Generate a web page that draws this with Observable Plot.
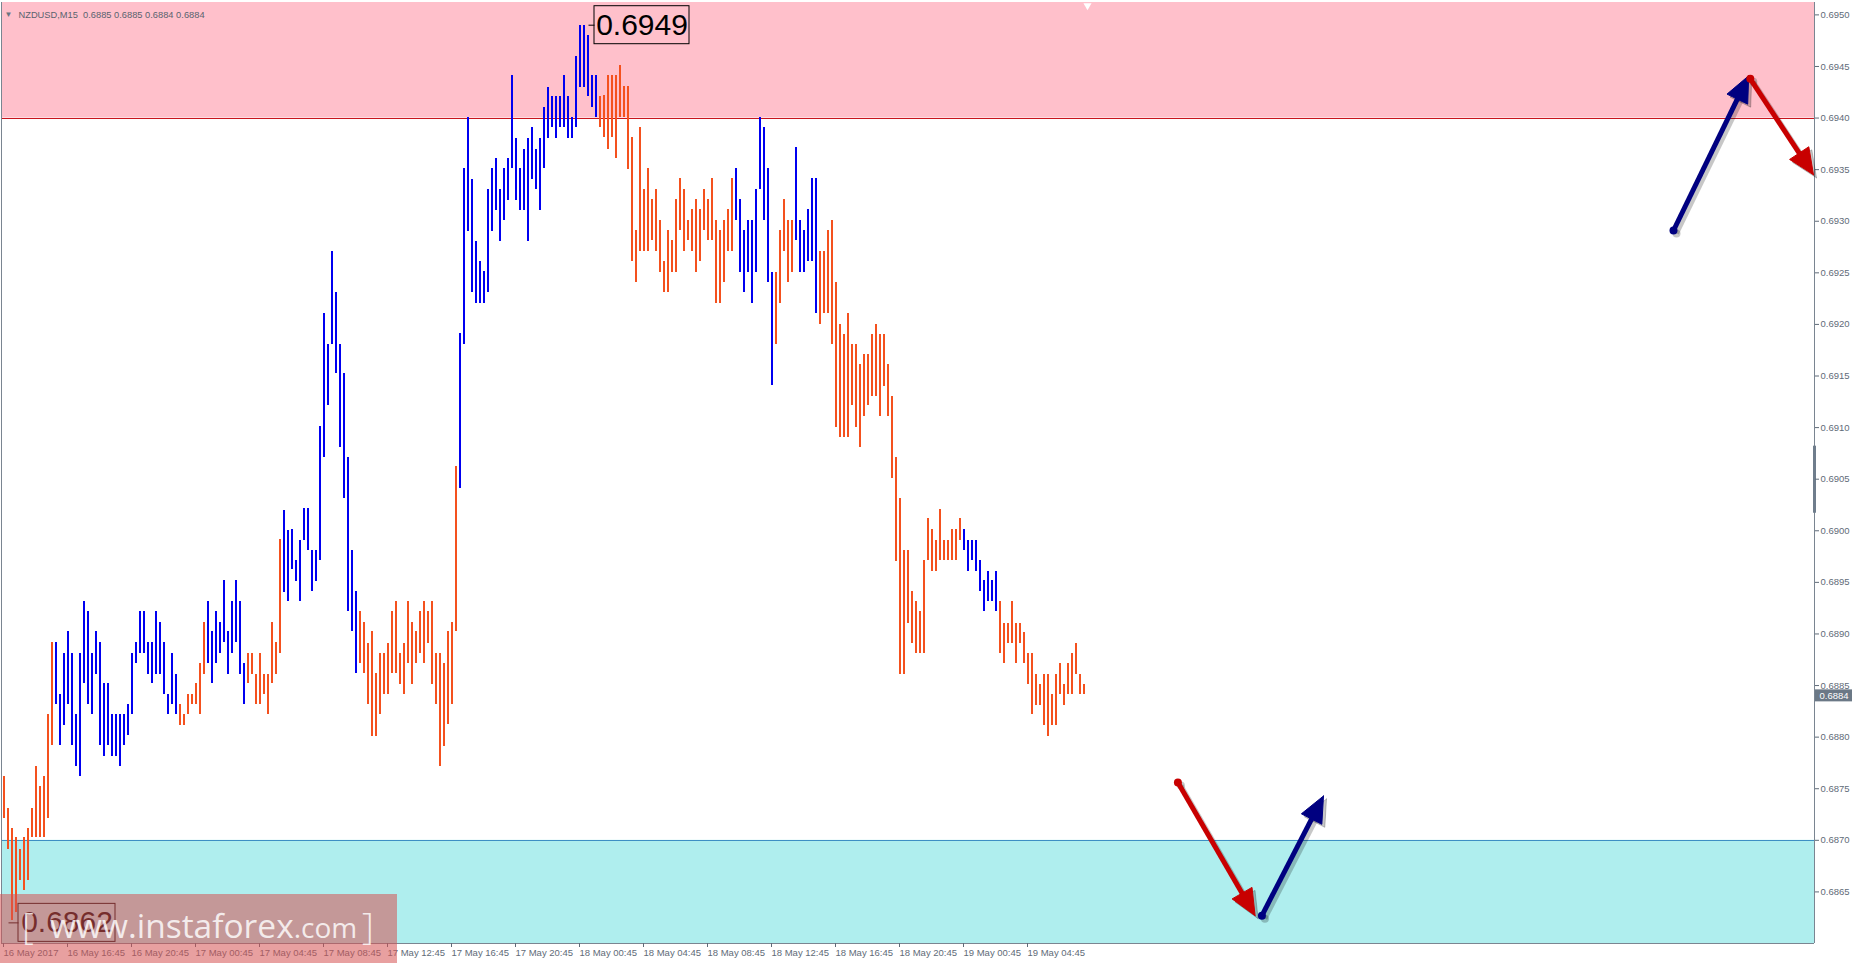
<!DOCTYPE html>
<html>
<head>
<meta charset="utf-8">
<script src="https://cdn.jsdelivr.net/npm/d3@7"></script>
<script src="https://cdn.jsdelivr.net/npm/@observablehq/plot@0.6"></script>
<style>
html, body { margin: 0; padding: 0; background: #ffffff; }
#wrap { position: relative; width: 1856px; height: 963px; overflow: hidden; background: #ffffff; }
#wrap svg { display: block; }
#wm { position: absolute; left: 0; top: 894px; width: 397px; height: 69px; background: rgba(213,82,82,0.55); pointer-events: none; }
#wm > .w { position: absolute; top: 9px; font-family: "Open Sans", sans-serif; line-height: 44px; white-space: nowrap; color: rgba(255,255,255,0.82); }
#wm .com { font-size: 28px; }
</style>
</head>
<body>
<div id="wrap"><div id="wm"><span class="w" style="left:22px;font-weight:300;font-size:37px">[</span><span class="w" style="left:50px;font-size:33.5px">www.instaforex<span class="com">.com</span></span><span class="w" style="left:362px;font-weight:300;font-size:37px">]</span></div></div>
<script>
// ---------- data (NZDUSD M15, one bar per 15 min, first bar 16 May 12:45) ----------
const barHigh = [
  0.68762,0.68731,0.68711,0.68703,0.68691,0.68703,0.68711,0.68731,0.68772,0.68752,
  0.68762,0.68822,0.68892,0.68892,0.68841,0.68881,0.68902,0.68881,0.68822,0.68881,
  0.68931,0.68922,0.68881,0.68902,0.68892,0.68852,0.68852,0.68822,0.68822,0.68822,
  0.68822,0.68832,0.68881,0.68892,0.68922,0.68922,0.68892,0.68892,0.68922,0.68911,
  0.68892,0.68841,0.68881,0.68861,0.68832,0.68822,0.68841,0.68841,0.68852,0.68871,
  0.68911,0.68931,0.68902,0.68922,0.68911,0.68952,0.68902,0.68931,0.68952,0.68931,
  0.68871,0.68881,0.68881,0.68861,0.68881,0.68861,0.68861,0.68911,0.68892,0.68992,
  0.69020,0.69000,0.69001,0.68971,0.68991,0.69022,0.69022,0.68981,0.68981,0.69101,
  0.69211,0.69181,0.69271,0.69231,0.69181,0.69152,0.69071,0.68981,0.68941,0.68922,
  0.68911,0.68891,0.68902,0.68862,0.68881,0.68881,0.68891,0.68922,0.68931,0.68881,
  0.68891,0.68931,0.68911,0.68902,0.68922,0.68931,0.68922,0.68931,0.68881,0.68881,
  0.68871,0.68902,0.68911,0.69062,0.69191,0.69351,0.69401,0.69340,0.69280,0.69261,
  0.69251,0.69331,0.69351,0.69361,0.69331,0.69351,0.69361,0.69441,0.69380,0.69351,
  0.69370,0.69380,0.69391,0.69370,0.69380,0.69410,0.69430,0.69421,0.69421,0.69421,
  0.69441,0.69421,0.69401,0.69460,0.69490,0.69490,0.69480,0.69441,0.69441,0.69421,
  0.69422,0.69441,0.69441,0.69441,0.69451,0.69431,0.69431,0.69381,0.69291,0.69391,
  0.69331,0.69351,0.69321,0.69331,0.69301,0.69261,0.69291,0.69281,0.69321,0.69341,
  0.69331,0.69301,0.69311,0.69321,0.69311,0.69331,0.69321,0.69341,0.69301,0.69291,
  0.69301,0.69311,0.69341,0.69351,0.69321,0.69291,0.69301,0.69301,0.69331,0.69401,
  0.69391,0.69351,0.69250,0.69250,0.69291,0.69321,0.69301,0.69301,0.69371,0.69301,
  0.69291,0.69311,0.69341,0.69341,0.69271,0.69271,0.69291,0.69301,0.69241,0.69200,
  0.69190,0.69211,0.69181,0.69181,0.69161,0.69171,0.69171,0.69190,0.69200,0.69190,
  0.69190,0.69161,0.69130,0.69071,0.69031,0.68981,0.68981,0.68941,0.68931,0.68922,
  0.68971,0.69012,0.69001,0.68991,0.69021,0.68991,0.68991,0.69001,0.69001,0.69012,
  0.69001,0.68991,0.68991,0.68991,0.68971,0.68952,0.68961,0.68952,0.68961,0.68931,
  0.68910,0.68910,0.68931,0.68910,0.68910,0.68901,0.68881,0.68881,0.68861,0.68851,
  0.68861,0.68861,0.68841,0.68861,0.68871,0.68851,0.68871,0.68881,0.68891,0.68861,
  0.68851
];
const barLow = [
  0.68721,0.68691,0.68622,0.68630,0.68661,0.68651,0.68661,0.68703,0.68703,0.68703,
  0.68703,0.68721,0.68792,0.68832,0.68792,0.68811,0.68832,0.68792,0.68772,0.68762,
  0.68852,0.68832,0.68822,0.68861,0.68792,0.68781,0.68792,0.68781,0.68781,0.68772,
  0.68792,0.68802,0.68822,0.68871,0.68881,0.68881,0.68861,0.68852,0.68861,0.68861,
  0.68841,0.68822,0.68832,0.68822,0.68811,0.68811,0.68822,0.68832,0.68832,0.68822,
  0.68861,0.68871,0.68852,0.68871,0.68881,0.68892,0.68861,0.68881,0.68892,0.68861,
  0.68832,0.68852,0.68861,0.68832,0.68832,0.68841,0.68822,0.68852,0.68861,0.68881,
  0.68940,0.68931,0.68962,0.68951,0.68931,0.68991,0.68981,0.68941,0.68951,0.68971,
  0.69071,0.69121,0.69181,0.69152,0.69081,0.69031,0.68922,0.68902,0.68862,0.68871,
  0.68862,0.68832,0.68801,0.68801,0.68822,0.68841,0.68841,0.68862,0.68862,0.68851,
  0.68841,0.68871,0.68851,0.68871,0.68881,0.68871,0.68891,0.68851,0.68832,0.68772,
  0.68791,0.68812,0.68832,0.68902,0.69041,0.69181,0.69290,0.69231,0.69220,0.69220,
  0.69220,0.69231,0.69290,0.69310,0.69280,0.69301,0.69320,0.69351,0.69320,0.69310,
  0.69310,0.69280,0.69340,0.69331,0.69310,0.69351,0.69380,0.69391,0.69380,0.69391,
  0.69391,0.69380,0.69380,0.69391,0.69430,0.69430,0.69421,0.69410,0.69401,0.69391,
  0.69381,0.69370,0.69381,0.69361,0.69401,0.69401,0.69350,0.69261,0.69241,0.69271,
  0.69271,0.69271,0.69281,0.69271,0.69250,0.69231,0.69231,0.69250,0.69250,0.69291,
  0.69271,0.69281,0.69271,0.69250,0.69261,0.69291,0.69281,0.69281,0.69220,0.69220,
  0.69241,0.69271,0.69271,0.69301,0.69250,0.69231,0.69250,0.69220,0.69250,0.69331,
  0.69301,0.69241,0.69141,0.69181,0.69220,0.69271,0.69241,0.69250,0.69281,0.69250,
  0.69250,0.69261,0.69261,0.69211,0.69200,0.69211,0.69211,0.69181,0.69100,0.69090,
  0.69090,0.69090,0.69121,0.69100,0.69081,0.69111,0.69121,0.69130,0.69130,0.69111,
  0.69140,0.69111,0.69051,0.68970,0.68861,0.68861,0.68910,0.68891,0.68881,0.68881,
  0.68881,0.68971,0.68961,0.68961,0.68971,0.68971,0.68971,0.68971,0.68971,0.68991,
  0.68981,0.68961,0.68971,0.68961,0.68941,0.68922,0.68931,0.68931,0.68922,0.68881,
  0.68871,0.68891,0.68891,0.68871,0.68891,0.68871,0.68851,0.68822,0.68831,0.68831,
  0.68811,0.68801,0.68811,0.68811,0.68841,0.68831,0.68841,0.68841,0.68861,0.68841,
  0.68841
];
// bar colouring (B = blue wave, O = orange wave), as runs of consecutive bars
const trendRuns = [["O",13],["B",31],["O",7],["B",10],["O",9],["B",19],["O",25],["B",35],
                   ["O",34],["B",10],["O",5],["B",6],["O",36],["B",9],["O",22]];

const priceTicks = [0.6865,0.6870,0.6875,0.6880,0.6885,0.6890,0.6895,0.6900,0.6905,
                    0.6910,0.6915,0.6920,0.6925,0.6930,0.6935,0.6940,0.6945,0.6950];
const timeTickBars = [0,16,32,48,64,80,96,112,128,144,160,176,192,208,224,240,256];
const timeTickLabels = ["16 May 2017","16 May 16:45","16 May 20:45","17 May 00:45","17 May 04:45",
  "17 May 08:45","17 May 12:45","17 May 16:45","17 May 20:45","18 May 00:45","18 May 04:45",
  "18 May 08:45","18 May 12:45","18 May 16:45","18 May 20:45","19 May 00:45","19 May 04:45"];

const resistanceZone = [0.6940, 0.69512];
const supportZone = [0.6860, 0.6870];
const currentPrice = 0.6884;
const titleText = "NZDUSD,M15\u00a0\u00a00.6885 0.6885 0.6884 0.6884";

// forecast arrows: bar index / price of start and tip
const arrows = [
  {x1: 417.5, y1: 0.69291, x2: 436.3, y2: 0.69441, kind: "up"},
  {x1: 436.7, y1: 0.69438, x2: 452.5, y2: 0.69345, kind: "down"},
  {x1: 293.6, y1: 0.68756, x2: 312.9, y2: 0.68627, kind: "down"},
  {x1: 314.6, y1: 0.68627, x2: 330.0, y2: 0.68743, kind: "up"}
];
// extreme price labels
const extremeLabels = [
  {text: "0.6949", value: 0.6949, bar: 144},
  {text: "0.6862", value: 0.6862, bar: 2}
];

// ---------- styling ----------
const W = 1856, H = 963;
const M = {top: 2, right: 42, bottom: 20, left: 1};
const xDomain = [-0.5, 452.75];
const yDomain = [0.6860, 0.69512];
const BLUE = "#0000f0", ORANGE = "#f4511e";
const ARROW = {up: "#000080", down: "#c80000"};
const AXIS = "#5f6b78", FRAME = "#7a8591";

const xs = Plot.scale({x: {type: "linear", domain: xDomain, range: [M.left, W - M.right]}});
const ys = Plot.scale({y: {type: "linear", domain: yDomain, range: [H - M.bottom, M.top]}});
const px = v => xs.apply(v), py = v => ys.apply(v), ix = p => xs.invert(p), iy = p => ys.invert(p);

const trend = trendRuns.flatMap(([c, n]) => Array(n).fill(c));
const bars = barHigh.map((h, k) => ({k, high: h, low: barLow[k], up: trend[k] === "B"}));
const labelMap = new Map(timeTickBars.map((b, i) => [b, timeTickLabels[i]]));

// arrow geometry (computed from the arrow data through the scales)
const HEAD_LEN = 26, HEAD_W = 23;
function arrowParts(a) {
  const sx = px(a.x1), sy = py(a.y1), tx = px(a.x2), ty = py(a.y2);
  const len = Math.hypot(tx - sx, ty - sy), ux = (tx - sx) / len, uy = (ty - sy) / len;
  const nx = -uy, ny = ux;
  const bx = tx - ux * HEAD_LEN, by = ty - uy * HEAD_LEN;
  const shaft = [{x1: a.x1, y1: a.y1, x2: ix(bx + ux * 3), y2: iy(by + uy * 3)}];
  const head = [[tx, ty], [bx + nx * HEAD_W / 2, by + ny * HEAD_W / 2], [bx - nx * HEAD_W / 2, by - ny * HEAD_W / 2], [tx, ty]]
    .map(([X, Y]) => ({x: ix(X), y: iy(Y)}));
  const start = [{x: a.x1, y: a.y1}];
  return {shaft, head, start, color: ARROW[a.kind]};
}
const arrowData = arrows.map(arrowParts);
function arrowMarks(p, color, op, d) {
  return [
    Plot.link(p.shaft, {x1: "x1", y1: "y1", x2: "x2", y2: "y2", stroke: color, strokeOpacity: op, strokeWidth: 5, dx: d, dy: d}),
    Plot.line(p.head, {x: "x", y: "y", fill: color, fillOpacity: op, stroke: color, strokeOpacity: op, strokeWidth: 1, dx: d, dy: d}),
    Plot.dot(p.start, {x: "x", y: "y", r: 4, fill: color, fillOpacity: op, stroke: null, dx: d, dy: d})
  ];
}

// extreme-label boxes
const labelGeom = [{line: 9, box: 15, w: 95}, {line: -3, box: 7, w: 97}];
const labelBoxes = extremeLabels.map((l, i) => {
  const g = labelGeom[i], bx = px(l.bar), y = py(l.value);
  return {
    text: l.text, value: l.value,
    lx1: ix(bx + g.line), lx2: ix(bx + g.box),
    x1: ix(bx + g.box), x2: ix(bx + g.box + g.w), cx: ix(bx + g.box + g.w / 2),
    y1: iy(y - 19), y2: iy(y + 19)
  };
});

const cp = py(currentPrice);
const priceBox = [{x1: ix(1815), x2: ix(1852), y1: iy(cp - 6), y2: iy(cp + 6), tx: ix(1819), y: currentPrice, text: currentPrice.toFixed(4)}];

const chart = Plot.plot({
  width: W, height: H,
  marginTop: M.top, marginRight: M.right, marginBottom: M.bottom, marginLeft: M.left,
  x: {type: "linear", domain: xDomain},
  y: {type: "linear", domain: yDomain},
  style: {fontFamily: "'Liberation Sans', Arial, sans-serif", fontSize: "9.5px", background: "transparent", overflow: "visible"},
  marks: [
    // zones
    Plot.rect([resistanceZone], {x1: xDomain[0], x2: xDomain[1], y1: d => d[0], y2: d => d[1], fill: "#ffc0cb"}),
    Plot.rect([supportZone], {x1: xDomain[0], x2: xDomain[1], y1: d => d[0], y2: d => d[1], fill: "#afeeee"}),
    Plot.ruleY([resistanceZone[0]], {x1: xDomain[0], x2: xDomain[1], stroke: "#c8141e", shapeRendering: "crispEdges"}),
    Plot.ruleY([supportZone[1]], {x1: xDomain[0], x2: xDomain[1], stroke: "#3d8fc4", shapeRendering: "crispEdges"}),
    // bars
    Plot.ruleX(bars, {x: "k", y1: "low", y2: "high", stroke: d => d.up ? BLUE : ORANGE, strokeWidth: 2, shapeRendering: "crispEdges"}),
    // frame
    Plot.ruleX([xDomain[0], xDomain[1]], {stroke: FRAME, shapeRendering: "crispEdges"}),
    Plot.ruleY([yDomain[0]], {stroke: FRAME, shapeRendering: "crispEdges"}),
    Plot.ruleX([xDomain[1]], {y1: 0.69017, y2: 0.69082, stroke: "#6f7d8c", strokeWidth: 3}),
    // axes
    Plot.axisY({anchor: "right", ticks: priceTicks, tickFormat: d3.format(".4f"), tickSize: 4, tickPadding: 2, color: AXIS, fontSize: 9.5}),
    Plot.axisX({anchor: "bottom", ticks: timeTickBars, tickFormat: d => labelMap.get(d), tickSize: 4, tickPadding: 2, textAnchor: "start", color: AXIS, fontSize: 9.5}),
    // current price tag
    Plot.rect(priceBox, {x1: "x1", x2: "x2", y1: "y1", y2: "y2", fill: "#6b7886"}),
    Plot.text(priceBox, {x: "tx", y: "y", text: "text", textAnchor: "start", fill: "white", fontSize: 9.5}),
    // arrows: shadows then arrows
    ...arrowData.flatMap(p => arrowMarks(p, "#000000", 0.22, 3)),
    ...arrowData.flatMap(p => arrowMarks(p, p.color, 1, 0)),
    // extreme labels
    Plot.link(labelBoxes, {x1: "lx1", x2: "lx2", y1: "value", y2: "value", stroke: "#000", strokeWidth: 1}),
    Plot.rect(labelBoxes, {x1: "x1", x2: "x2", y1: "y1", y2: "y2", fill: "none", stroke: "#000", strokeWidth: 1}),
    Plot.text(labelBoxes, {x: "cx", y: "value", text: "text", fontSize: 30, fill: "#000", fontFamily: "'Liberation Sans', Arial, sans-serif"}),
    // header
    Plot.text(["\u25bc"], {frameAnchor: "top-left", dx: 3, dy: 9, textAnchor: "start", fontSize: 8, fill: "#6a7480"}),
    Plot.text([titleText], {frameAnchor: "top-left", dx: 17, dy: 9, textAnchor: "start", fontSize: 9.3, fill: "#59636e"}),
    // chart-shift marker
    Plot.dot([{k: 271, v: iy(5)}], {x: "k", y: "v", symbol: "triangle", rotate: 180, r: 3, fill: "#ffffff", stroke: null})
  ]
});
document.getElementById("wrap").prepend(chart);
</script>
</body>
</html>
